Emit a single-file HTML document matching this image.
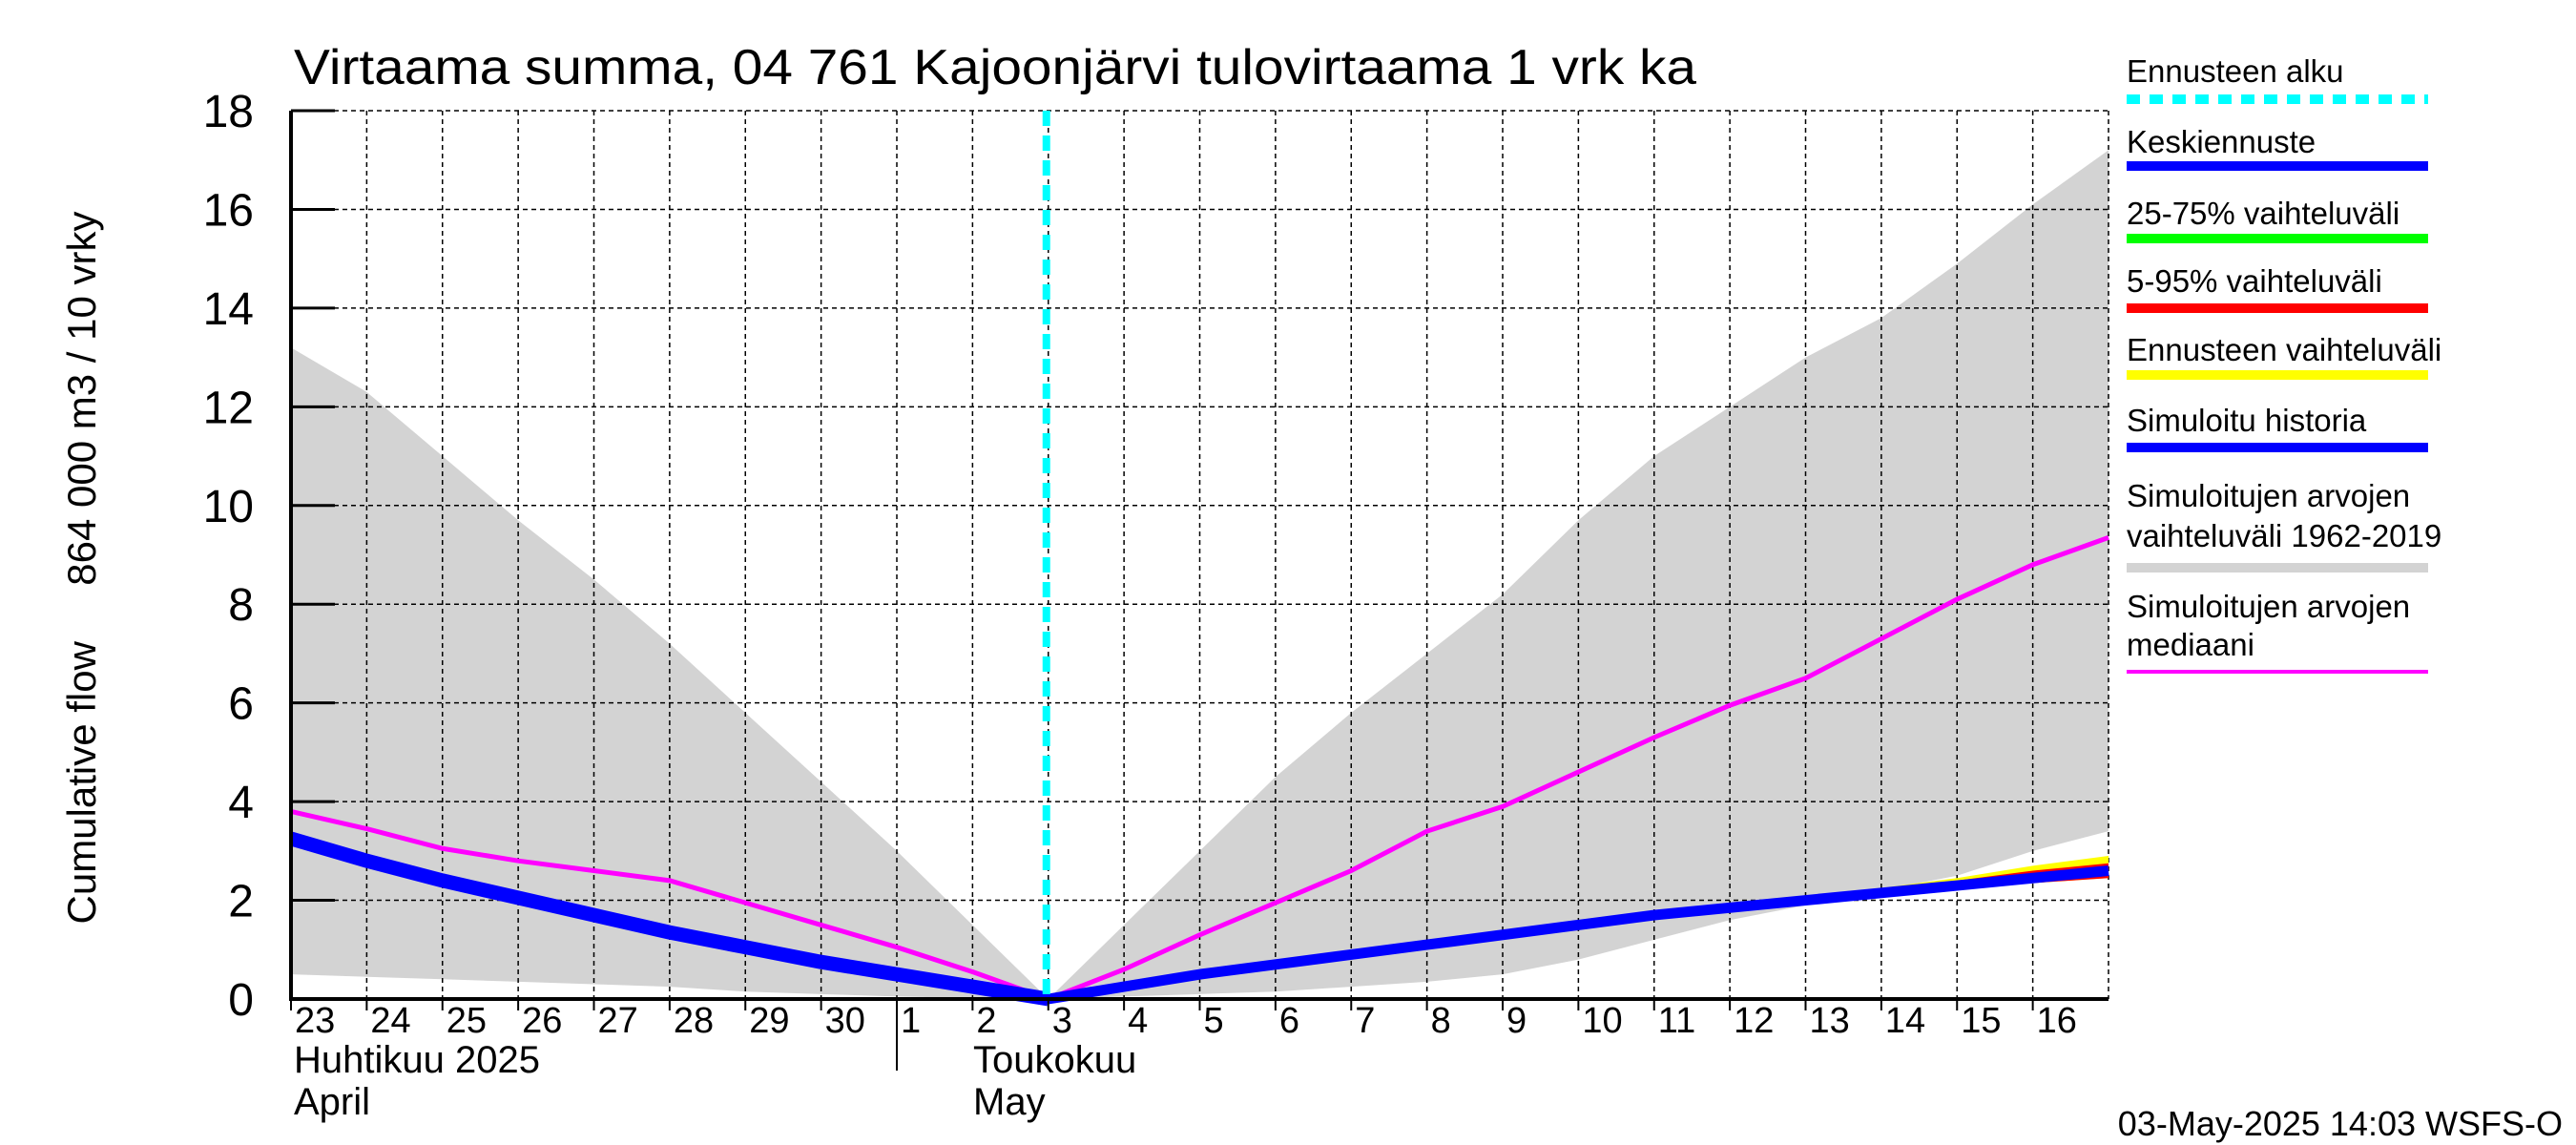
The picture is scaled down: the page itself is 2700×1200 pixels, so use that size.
<!DOCTYPE html>
<html><head><meta charset="utf-8"><style>
html,body{margin:0;padding:0;background:#fff;}
svg{display:block;font-family:"Liberation Sans",Arial,sans-serif;}
</style></head><body>
<svg id="chart" width="2700" height="1200" viewBox="0 0 2700 1200" xmlns="http://www.w3.org/2000/svg">
<rect x="0" y="0" width="2700" height="1200" fill="#fff"/>
<text x="308" y="88" font-size="52" textLength="1470" lengthAdjust="spacingAndGlyphs">Virtaama summa, 04 761 Kajoonjärvi tulovirtaama 1 vrk ka</text>
<text transform="translate(100,595) rotate(-90)" text-anchor="middle" font-size="42" xml:space="preserve">Cumulative flow     864 000 m3 / 10 vrky</text>
<g id="plot"></g>
<g id="legend"></g>
<text x="2686" y="1190" text-anchor="end" font-size="36">03-May-2025 14:03 WSFS-O</text>
</svg>
<script>
const dayLabels = ["23","24","25","26","27","28","29","30","1","2","3","4","5","6","7","8","9","10","11","12","13","14","15","16"];
const yTicks = [0,2,4,6,8,10,12,14,16,18];
const greyHi = [13.2,12.3,11.0,9.7,8.5,7.2,5.8,4.4,3.0,1.5,0,1.5,3.0,4.5,5.8,7.0,8.2,9.7,11.0,12.0,13.0,13.8,14.9,16.1,17.2];
const greyLo = [0.5,0.45,0.4,0.35,0.3,0.25,0.15,0.1,0.05,0.02,0,0.05,0.1,0.15,0.25,0.35,0.5,0.8,1.2,1.6,1.9,2.2,2.5,3.0,3.4];
const median = [3.8,3.45,3.05,2.8,2.6,2.4,1.95,1.5,1.05,0.55,0,0.6,1.3,1.95,2.6,3.4,3.9,4.6,5.3,5.95,6.5,7.3,8.1,8.8,9.35];
const history = [3.25,2.8,2.4,2.05,1.7,1.35,1.05,0.75,0.5,0.25,0];
const forecastDays = [10,11,12,13,14,15,16,17,18,19,20,21,22,23,24];
const forecast = [0,0.25,0.5,0.7,0.9,1.1,1.3,1.5,1.7,1.85,2.0,2.15,2.3,2.45,2.6];
const yellowHi = [0,0.26,0.52,0.73,0.94,1.15,1.36,1.56,1.76,1.92,2.08,2.25,2.45,2.7,2.9];
const redHi = [0,0.26,0.51,0.72,0.92,1.13,1.33,1.53,1.73,1.89,2.05,2.2,2.4,2.6,2.75];
const redLo = [0,0.24,0.49,0.68,0.88,1.07,1.27,1.47,1.67,1.82,1.96,2.1,2.22,2.35,2.45];
const forecastStartDay = 10;

const NS="http://www.w3.org/2000/svg";
const X0=305,X1=2210,Y0=1047,Y1=116,ND=24;
const sx=d=>X0+(X1-X0)*d/ND;
const sy=v=>Y0-(Y0-Y1)*v/18;
const plot=document.getElementById('plot');
function mk(tag,at,parent){const e=document.createElementNS(NS,tag);for(const k in at)e.setAttribute(k,at[k]);(parent||plot).appendChild(e);return e;}
function pts(xs,ys){return xs.map((x,i)=>sx(x)+','+sy(ys[i])).join(' ');}
const idx=greyHi.map((_,i)=>i);

// grey band
let band=mk('polygon',{points:pts(idx,greyHi)+' '+pts(idx.slice().reverse(),greyLo.slice().reverse()),fill:'#d3d3d3'});



// grid
for(let d=1;d<=ND;d++){
  const g=mk('line',{x1:sx(d),x2:sx(d),y1:Y1,y2:Y0,stroke:'#000','stroke-width':1.5,'stroke-dasharray':'5,4'});
  
  
}
yTicks.forEach(v=>{
  if(v>0){const g=mk('line',{x1:X0,x2:X1,y1:sy(v),y2:sy(v),stroke:'#000','stroke-width':1.5,'stroke-dasharray':'5,4'});
  
  }
  const t=mk('line',{x1:X0,x2:X0+46,y1:sy(v),y2:sy(v),stroke:'#000','stroke-width':3});
  
  
  const l=mk('text',{x:266,y:sy(v)+17,'text-anchor':'end','font-size':48});
  l.textContent=v;
  
  
});

// envelopes
let ye=mk('polygon',{points:pts(forecastDays,yellowHi)+' '+pts(forecastDays.slice().reverse(),redLo.slice().reverse()),fill:'#ffff00'});


let re=mk('polygon',{points:pts(forecastDays,redHi)+' '+pts(forecastDays.slice().reverse(),redLo.slice().reverse()),fill:'#ff0000'});



// median
let m=mk('polyline',{points:pts(idx,median),fill:'none',stroke:'#ff00ff','stroke-width':5});


// history
let h=mk('polyline',{points:pts(history.map((_,i)=>i),history),fill:'none',stroke:'#0000ff','stroke-width':15,'stroke-linejoin':'round'});


let f=mk('polyline',{points:pts(forecastDays,forecast),fill:'none',stroke:'#0000ff','stroke-width':11,'stroke-linejoin':'round'});



// forecast start
let fs=mk('line',{x1:sx(forecastStartDay)-2,x2:sx(forecastStartDay)-2,y1:Y1,y2:Y0,stroke:'#00ffff','stroke-width':8,'stroke-dasharray':'16,10'});



// axes
let ax=mk('polyline',{points:`${X0},${Y1} ${X0},${Y0} ${X1},${Y0}`,fill:'none',stroke:'#000','stroke-width':4});


for(let d=0;d<ND;d++){
  const t=mk('line',{x1:sx(d),x2:sx(d),y1:Y0,y2:Y0+12,stroke:'#000','stroke-width':2});
  
  
  const l=mk('text',{x:sx(d)+4,y:1082,'font-size':38});
  l.textContent=dayLabels[d];
  
  
}
let sep=mk('line',{x1:sx(8),x2:sx(8),y1:Y0,y2:1122,stroke:'#000','stroke-width':2});


[["Huhtikuu  2025",308,1124],["April",308,1168],["Toukokuu",1020,1124],["May",1020,1168]].forEach(a=>{
  const t=mk('text',{x:a[1],y:a[2],'font-size':40,'xml:space':'preserve'});
  t.textContent=a[0];
  
  
});

// legend
const lg=document.getElementById('legend');
const items=[
 [["Ennusteen alku"],[86],104,'#00ffff',true],
 [["Keskiennuste"],[160],174,'#0000ff'],
 [["25-75% vaihteluväli"],[235],250,'#00ff00'],
 [["5-95% vaihteluväli"],[306],323,'#ff0000'],
 [["Ennusteen vaihteluväli"],[378],393,'#ffff00'],
 [["Simuloitu historia"],[452],469,'#0000ff'],
 [["Simuloitujen arvojen","vaihteluväli 1962-2019"],[531,573],595,'#d3d3d3'],
 [["Simuloitujen arvojen","mediaani"],[647,687],704,'#ff00ff',false,4]
];
items.forEach(it=>{
  it[0].forEach((s,i)=>{
    const t=mk('text',{x:2229,y:it[1][i],'font-size':33},lg);
    t.textContent=s;
    
    
  });
  const at={x1:2229,x2:2545,y1:it[2],y2:it[2],stroke:it[3],'stroke-width':it[5]||10};
  if(it[4]){at['stroke-dasharray']='14,10';}
  const l=mk('line',at,lg);
  
  
});
</script>
</body></html>
